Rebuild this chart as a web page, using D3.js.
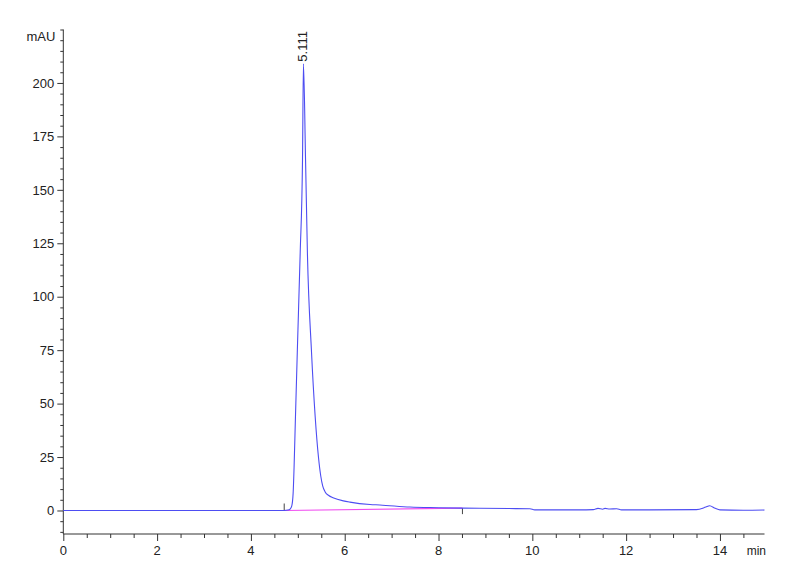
<!DOCTYPE html>
<html>
<head>
<meta charset="utf-8">
<script src="https://cdn.jsdelivr.net/npm/d3@7"></script>
<style>
  body { margin: 0; background: #fff; }
  svg text { font-family: "Liberation Sans Narrow", "Liberation Sans", Arial, sans-serif; fill: #222; }
</style>
</head>
<body>
<svg id="chart" width="800" height="587"></svg>
<script>
// retention time (min) and signal (mAU)
const times = [0, 1, 2, 3, 4, 4.5, 4.71, 4.79, 4.84, 4.87, 4.90, 4.92, 4.95, 4.99, 5.05, 5.10, 5.12,
  5.165, 5.205, 5.29, 5.37, 5.44, 5.49, 5.53, 5.58, 5.66, 5.75, 5.97, 6.11, 6.54, 6.75, 7.39, 8.0, 8.52,
  9.5, 9.95, 10.05, 11.0, 11.3, 11.4, 11.5, 11.55, 11.65, 11.8, 11.9, 12.5, 13.5, 13.7, 13.78,
  13.9, 14.0, 14.5, 14.95];
const signal = [0, 0, 0, 0, 0, 0, 0, 0.2, 0.8, 2, 8, 20, 44, 75, 120, 164, 209,
  164, 120, 75, 44, 25, 16, 11.5, 8.8, 7.0, 6.0, 4.5, 3.9, 2.8, 2.6, 1.6, 1.3, 1.1,
  0.9, 0.8, 0.3, 0.3, 0.4, 1.0, 0.6, 1.0, 0.7, 0.8, 0.3, 0.3, 0.4, 1.6, 2.2,
  1.0, 0.3, 0.1, 0.2];

// integration baseline of the peak (start, end)
const baseTimes = [4.71, 8.51];
const baseValues = [0, 1.1];

const peakLabel = "5.111";
const peakTime = 5.11;
const peakValue = 209;

const xTickLabels = [0, 2, 4, 6, 8, 10, 12, 14];
const yTickLabels = [0, 25, 50, 75, 100, 125, 150, 175, 200];

const svg = d3.select("#chart");

const x = d3.scaleLinear().domain([0, 14.95]).range([63.3, 764.5]);
const y = d3.scaleLinear().domain([-11, 225]).range([534, 29.5]);

const axisColor = "#333";

// y axis
const yAxis = svg.append("g").attr("transform", `translate(${x(0)},0)`);
yAxis.append("line")
  .attr("x1", 0).attr("x2", 0)
  .attr("y1", y(225)).attr("y2", y(-11))
  .attr("stroke", axisColor);
const yMinor = d3.range(-10, 226, 5);
yAxis.selectAll(".ytick").data(yMinor).join("line")
  .attr("x1", d => yTickLabels.includes(d) ? -6 : -3).attr("x2", 0)
  .attr("y1", d => y(d) + 0.5).attr("y2", d => y(d) + 0.5)
  .attr("stroke", axisColor);
yAxis.selectAll(".ylab").data(yTickLabels).join("text")
  .attr("x", -9).attr("y", d => y(d))
  .attr("dy", "0.36em")
  .attr("text-anchor", "end")
  .attr("font-size", 13)
  .text(d => d);
yAxis.append("text")
  .attr("x", -8).attr("y", 41)
  .attr("text-anchor", "end")
  .attr("font-size", 13)
  .text("mAU");

// x axis
const xAxis = svg.append("g").attr("transform", `translate(0,${y(-11)})`);
xAxis.append("line")
  .attr("x1", x(0)).attr("x2", x(14.95))
  .attr("y1", 0).attr("y2", 0)
  .attr("stroke", axisColor);
const xMinor = d3.range(0, 14.95, 0.5);
xAxis.selectAll(".xtick").data(xMinor).join("line")
  .attr("x1", d => x(d) + 0.5).attr("x2", d => x(d) + 0.5)
  .attr("y1", 0).attr("y2", d => xTickLabels.includes(d) ? 7 : 4)
  .attr("stroke", axisColor);
xAxis.selectAll(".xlab").data(xTickLabels).join("text")
  .attr("x", d => x(d)).attr("y", 20.5)
  .attr("text-anchor", "middle")
  .attr("font-size", 13)
  .text(d => d);
xAxis.append("text")
  .attr("x", 766).attr("y", 20.5)
  .attr("text-anchor", "end")
  .attr("font-size", 12)
  .text("min");

// integration baseline
svg.append("line")
  .attr("x1", x(baseTimes[0])).attr("x2", x(baseTimes[1]))
  .attr("y1", y(baseValues[0])).attr("y2", y(baseValues[1]))
  .attr("stroke", "#f04cf0").attr("stroke-width", 1.2);
svg.append("line")
  .attr("x1", x(baseTimes[0])).attr("x2", x(baseTimes[0]))
  .attr("y1", y(baseValues[0]) - 7).attr("y2", y(baseValues[0]))
  .attr("stroke", "#444");
svg.append("line")
  .attr("x1", x(baseTimes[1])).attr("x2", x(baseTimes[1]))
  .attr("y1", y(baseValues[1])).attr("y2", y(baseValues[1]) + 6)
  .attr("stroke", "#444");

// chromatogram trace
const line = d3.line()
  .x((d, i) => x(times[i]))
  .y(d => y(d))
  .curve(d3.curveMonotoneX);
svg.append("path")
  .datum(signal)
  .attr("fill", "none")
  .attr("stroke", "#4d4df2")
  .attr("stroke-width", 1.1)
  .attr("d", line);

// peak label
svg.append("text")
  .attr("transform", `translate(${x(peakTime) + 4},${y(peakValue) - 2}) rotate(-90)`)
  .attr("font-size", 13)
  .text(peakLabel);
</script>
</body>
</html>
